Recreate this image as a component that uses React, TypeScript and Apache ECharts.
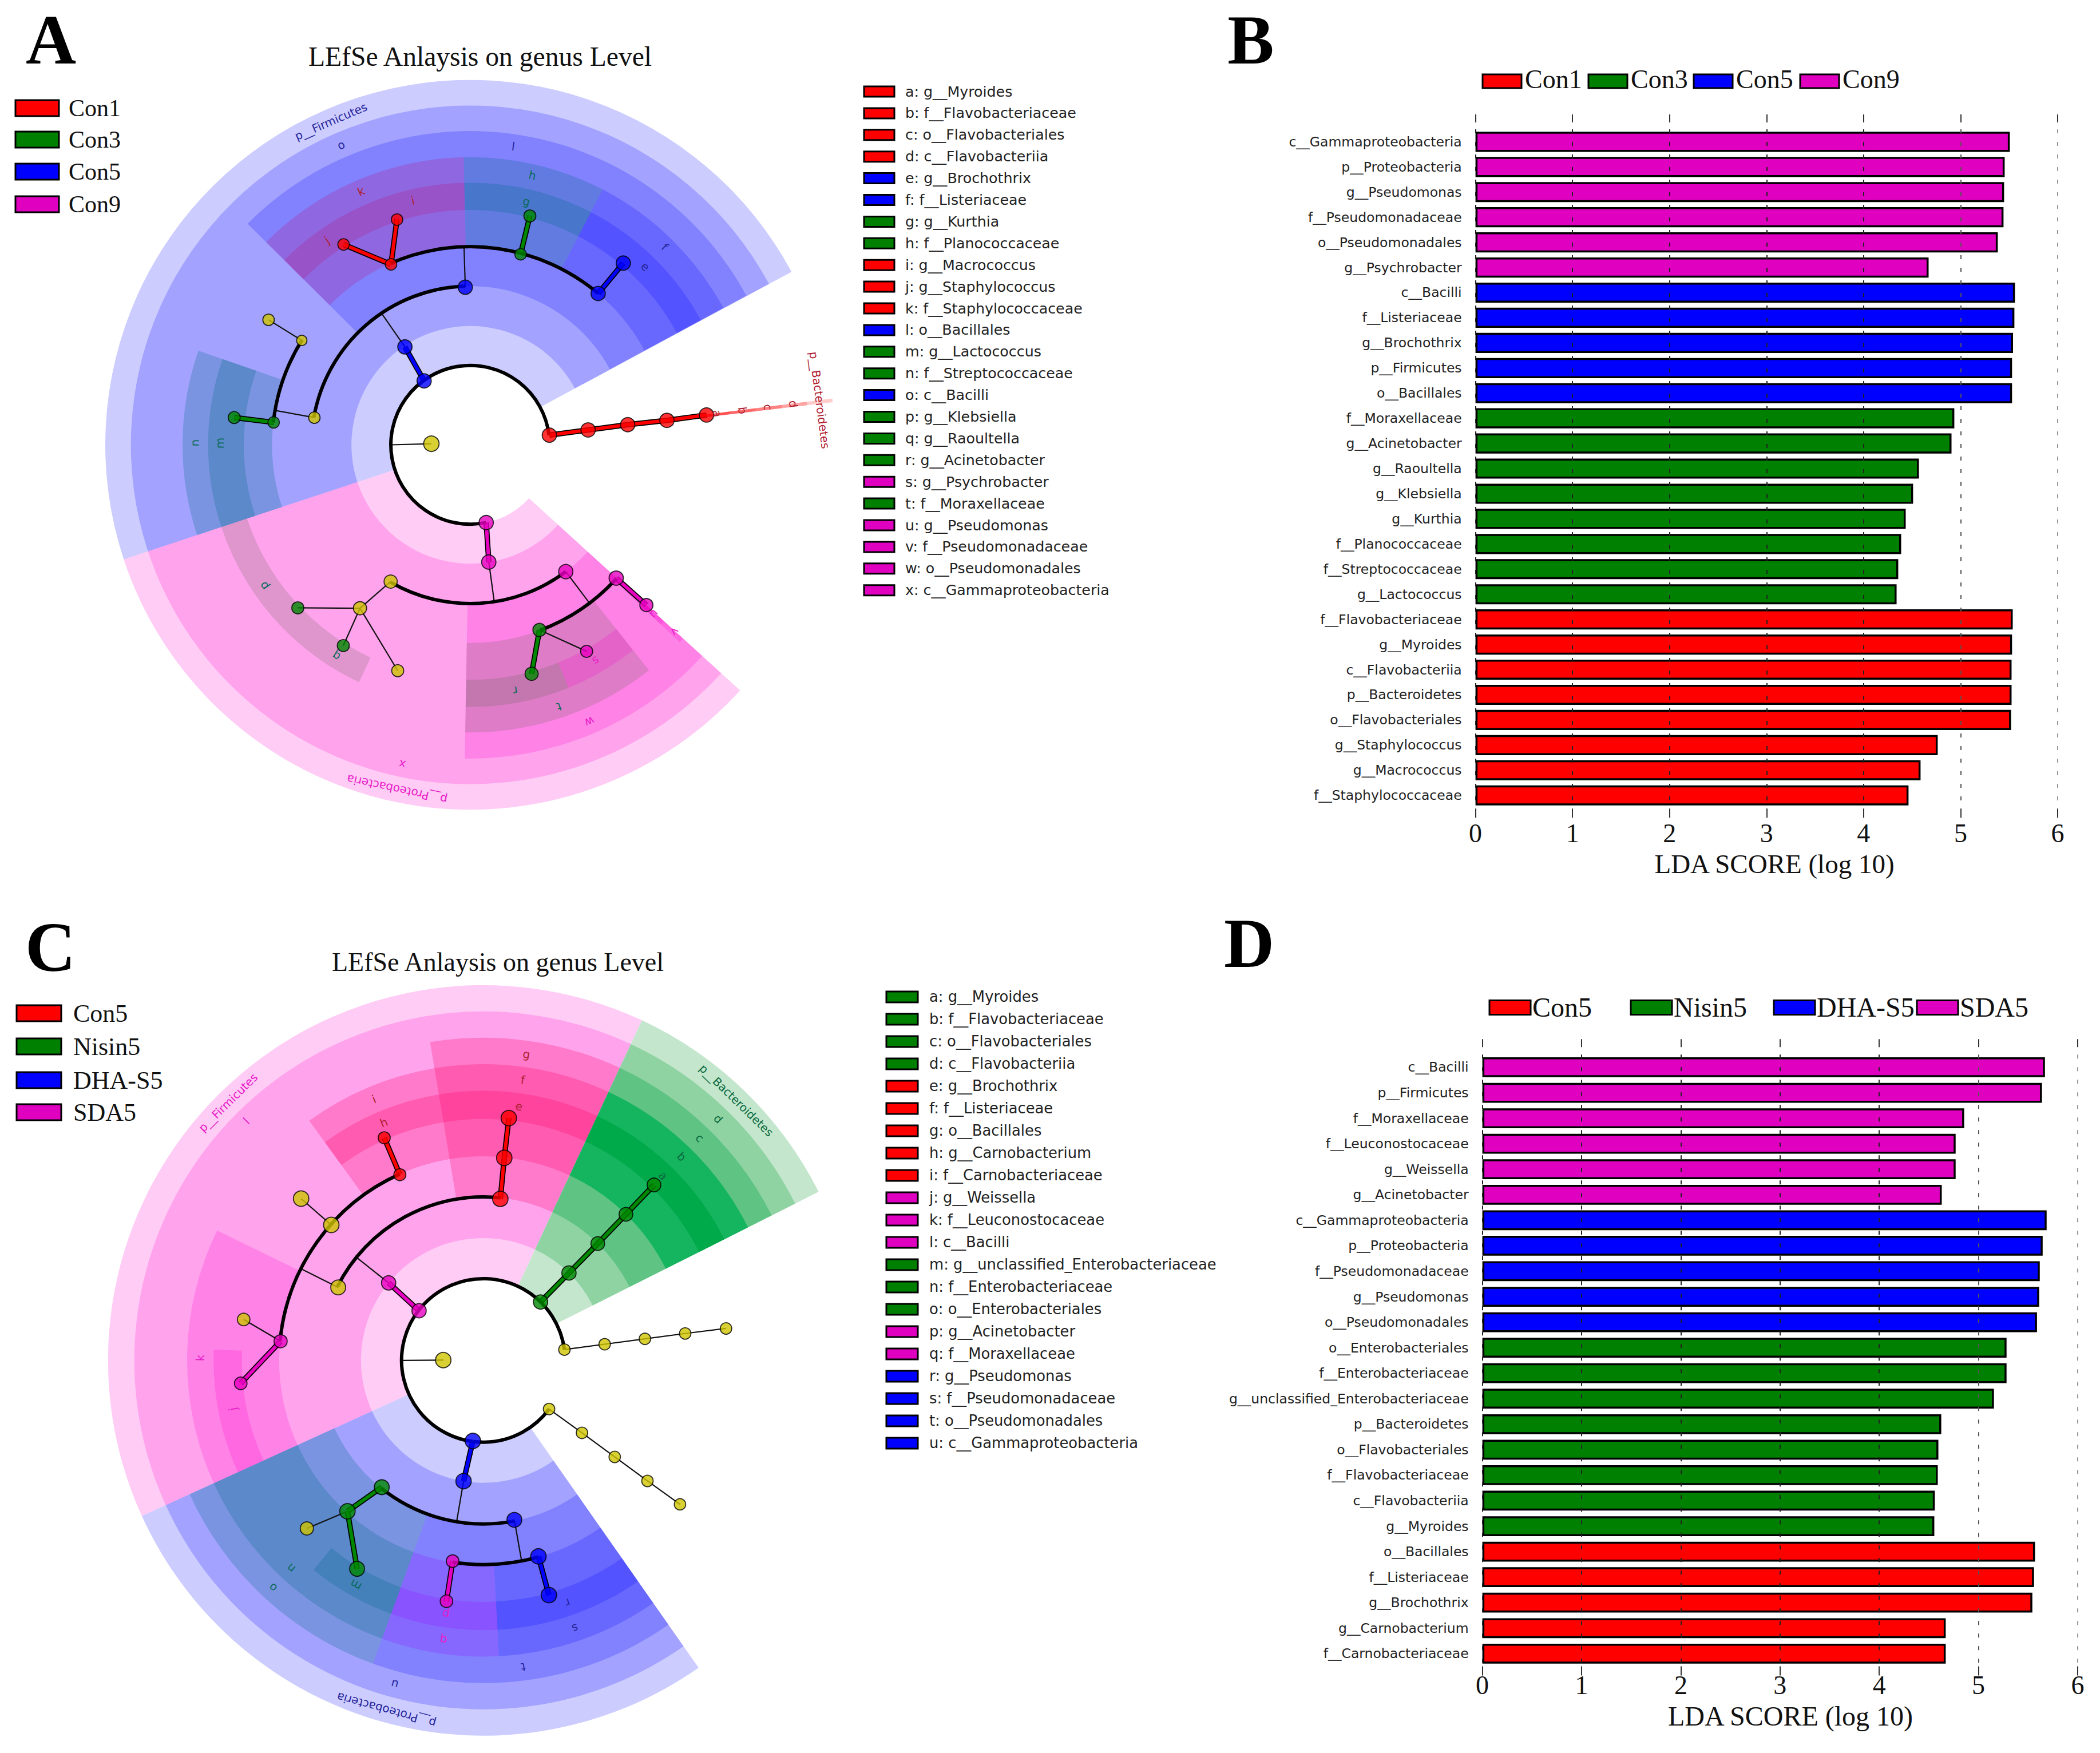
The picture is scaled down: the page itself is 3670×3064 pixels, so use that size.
import React, { useEffect, useRef } from "react";
import * as echarts from "echarts";

// ---------- bar panels ----------
const bCategories = ["c__Gammaproteobacteria","p__Proteobacteria","g__Pseudomonas","f__Pseudomonadaceae","o__Pseudomonadales","g__Psychrobacter","c__Bacilli","f__Listeriaceae","g__Brochothrix","p__Firmicutes","o__Bacillales","f__Moraxellaceae","g__Acinetobacter","g__Raoultella","g__Klebsiella","g__Kurthia","f__Planococcaceae","f__Streptococcaceae","g__Lactococcus","f__Flavobacteriaceae","g__Myroides","c__Flavobacteriia","p__Bacteroidetes","o__Flavobacteriales","g__Staphylococcus","g__Macrococcus","f__Staphylococcaceae"];
const bValues = [5.507,5.454,5.448,5.442,5.383,4.67,5.56,5.554,5.54,5.53,5.53,4.935,4.906,4.57,4.51,4.434,4.387,4.357,4.34,5.537,5.53,5.525,5.525,5.52,4.764,4.587,4.463];
const bGroups = [3,3,3,3,3,3,2,2,2,2,2,1,1,1,1,1,1,1,1,0,0,0,0,0,0,0,0];
const dCategories = ["c__Bacilli","p__Firmicutes","f__Moraxellaceae","f__Leuconostocaceae","g__Weissella","g__Acinetobacter","c__Gammaproteobacteria","p__Proteobacteria","f__Pseudomonadaceae","g__Pseudomonas","o__Pseudomonadales","o__Enterobacteriales","f__Enterobacteriaceae","g__unclassified_Enterobacteriaceae","p__Bacteroidetes","o__Flavobacteriales","f__Flavobacteriaceae","c__Flavobacteriia","g__Myroides","o__Bacillales","f__Listeriaceae","g__Brochothrix","g__Carnobacterium","f__Carnobacteriaceae"];
const dValues = [5.67,5.64,4.856,4.77,4.77,4.63,5.687,5.647,5.618,5.612,5.59,5.283,5.283,5.156,4.625,4.596,4.59,4.56,4.555,5.57,5.56,5.543,4.67,4.67];
const dGroups = [3,3,3,3,3,3,2,2,2,2,2,1,1,1,1,1,1,1,1,0,0,0,0,0];
const xTicks = [0, 6];

const groupColors = ["#ff0000", "#008000", "#0000ff", "#e000c0"];
const aGroupNames = ["Con1", "Con3", "Con5", "Con9"];
const cGroupNames = ["Con5", "Nisin5", "DHA-S5", "SDA5"];

// ---------- key lists beside the cladograms ----------
const aKeyNames = ["a: g__Myroides","b: f__Flavobacteriaceae","c: o__Flavobacteriales","d: c__Flavobacteriia","e: g__Brochothrix","f: f__Listeriaceae","g: g__Kurthia","h: f__Planococcaceae","i: g__Macrococcus","j: g__Staphylococcus","k: f__Staphylococcaceae","l: o__Bacillales","m: g__Lactococcus","n: f__Streptococcaceae","o: c__Bacilli","p: g__Klebsiella","q: g__Raoultella","r: g__Acinetobacter","s: g__Psychrobacter","t: f__Moraxellaceae","u: g__Pseudomonas","v: f__Pseudomonadaceae","w: o__Pseudomonadales","x: c__Gammaproteobacteria"];
const aKeyGroups = [0,0,0,0,2,2,1,1,0,0,0,2,1,1,2,1,1,1,3,1,3,3,3,3];
const cKeyNames = ["a: g__Myroides","b: f__Flavobacteriaceae","c: o__Flavobacteriales","d: c__Flavobacteriia","e: g__Brochothrix","f: f__Listeriaceae","g: o__Bacillales","h: g__Carnobacterium","i: f__Carnobacteriaceae","j: g__Weissella","k: f__Leuconostocaceae","l: c__Bacilli","m: g__unclassified_Enterobacteriaceae","n: f__Enterobacteriaceae","o: o__Enterobacteriales","p: g__Acinetobacter","q: f__Moraxellaceae","r: g__Pseudomonas","s: f__Pseudomonadaceae","t: o__Pseudomonadales","u: c__Gammaproteobacteria"];
const cKeyGroups = [1,1,1,1,0,0,0,0,0,3,3,3,1,1,1,3,3,2,2,2,2];

// ---------- cladogram A: polar values [radius, radius end, angle start, angle end] ----------
const aSectors = [
  [149,685,28.3,198.3],[223,637,28.3,198.3],[298,589,28.4,135.2],[372,540,91.3,135.2],[441,492,114.9,135.2],[441,492,91.3,114.9],
  [372,540,62.6,91.3],[441,492,62.6,91.3],[372,540,28.4,62.6],[441,492,28.4,62.6],[372,540,160.9,198.3],[425,492,160.9,198.3],
  [149,685,198.3,317.7],[223,637,198.3,317.7],[298,589,269,317.7],[372,540,269,308.4],[441,492,269,292],[441,492,292,308.4],
  [441,492,198.3,230.4],[441,492,230.4,244.9],[372,540,316.7,317.7],[441,492,316.7,317.7],
  [149,685,6.7,7.3],[223,637,6.7,7.3],[298,589,6.7,7.3],[372,540,6.7,7.3],[441,492,6.7,7.3],
];
const aSectorGroups = ["blue","blue","blue","plum","plum","plum","teal","teal","blue","blue","teal","teal","pink","pink","pink","olive","olive","pink","olive","olive","pink","pink","red","red","red","red","red"];
const aArcs = [[149,6.9,281.6],[298,91.8,170.1],[372,148,173.5],[372,49.8,113.7],[298,239.8,307],[372,290.5,317.6]];
const aEdges = [
  [149.6,7,223,7.2],[223,7.2,298,7.3],[298,7.3,372,7.1],[372,7.1,447,7.2],
  [148,125.8,221,123.7],[221,123.7,298,124],[297,170.1,372,170],[372,148.2,445,148.2],[371,173.5,446,173.4],[296,91.8,372,91.8],
  [370,113.7,445,108],[370,113.7,445,122.3],[370,75.2,444,75.4],[372,49.8,446,49.9],[73,178.4,149,180],
  [149,281.6,223,279],[223,279,298,278.7],[298,307,372,307],[371,290.5,445,285],[371,290.5,445,299.4],[371,317.6,447,317.7],
  [297,239.8,370,236],[370,236,445.4,223.4],[370,236,445.9,237.7],[370,236,445.3,252.2],
];
const aEdgeColors = ["red","red","red","red","blue",null,null,null,"green",null,"red","red","green","blue",null,"pink",null,null,"green",null,"pink",null,null,null,null];
const aNodes = [
  [149.6,7,25],[223,7.2,25],[298,7.3,25],[372,7.1,25],[447,7.2,25],
  [148,125.8,25],[221,123.7,25],[297,170.1,20],[372,148.2,18],[445.4,148.2,20],[371.4,173.5,20],[446,173.4,21],[296,91.8,25],
  [370,113.7,20],[444.6,108,20],[445,122.3,20],[370,75.2,20],[444,75.4,21],[372,49.8,25],[446,49.9,25],[73,178.4,27],
  [149,281.6,25],[222.8,279,25],[297,239.8,23],[298,307,25],[371,290.5,23],[371,317.6,25],[445,285,23],[445,299.4,21],[447,317.7,23],
  [370,236,23],[445.4,223.4,21],[445.9,237.7,21],[445.3,252.2,21],
];
const aNodeColors = ["red","red","red","red","red","blue","blue","yellow","yellow","yellow","green","green","blue","red","red","red","green","green","blue","blue","yellow","pink","pink","yellow","pink","green","pink","green","pink","pink","yellow","green","green","yellow"];
const aLabels = ["a","b","c","d","p__Bacteroidetes","l","o","p__Firmicutes","k","j","i","h","g","f","e","n","m","p","q","r","s","t","w","x","p__Proteobacteria","u","v"];
const aLabelPos = [[467,7.2],[515,7.2],[563,7.2],[611,7.2],[661,7.3],[566,81.8],[613,113.3],[661,113.3],[518,113.3],[469,125],[471,103.2],[519,77],[469,77],[521,45.5],[469,45.5],[517,179.6],[470,179.6],[469,214.4],[470,237.6],[469,280.4],[469,300.2],[519,288.7],[566,293.3],[613,258],[661,258],[469,317.4],[520,317.6]];
const aLabelGroups = ["red","red","red","red","red","blue","blue","blue","red","red","red","green","green","blue","blue","green","green","green","green","green","pink","green","pink","pink","pink","pink","pink"];

// ---------- cladogram C ----------
const cSectors = [
  [151,693,65,204.5],[226,644.5,65,204.5],[302,596,65,99.5],[377,547,65,99.5],[446,498,65,99.5],[377,547,99.5,126],[446,498,99.5,126],
  [377,547,154,204.5],[446,498,177.7,204.5],
  [151,693,26.7,65],[226,644.5,26.7,65],[302,596,26.7,65],[377,547,26.7,65],[446,498,26.7,65],
  [151,693,204.5,305],[226,644.5,204.5,305],[302,596,250,305],[377,547,273,305],[446,498,273,305],[377,547,250,273],[446,498,250,273],
  [302,596,204.5,250],[377,547,204.5,250],[446,498,231,250],
];
const cSectorGroups = ["pink","pink","rose","rose","rose","rose","rose","pink","pink","mint1","mint2","mint3","mint4","mint5","blue","blue","blue","blue","blue","violet","violet","teal","teal","teal"];
const cArcs = [[151,7.6,323.6],[302,84,153.3],[377,114.2,174.6],[302,231.3,281],[377,261.3,285.7]];
const cEdges = [
  [151,45.6,226,45.6],[226,45.6,302,45.6],[302,45.6,377,45.7],[377,45.7,452,45.8],
  [151,7.6,226,7.6],[226,7.6,301,7.6],[301,7.6,376,7.6],[376,7.6,452,7.5],
  [151,323.5,226,323.7],[226,323.7,301,323.7],[301,323.7,376,323.7],[376,323.7,450,323.8],
  [150,142.3,226,140.7],[226,140.7,302,140.9],[300,153.3,376,153.3],[376,114.2,450,114],[300,84,376,84.1],[376,84.1,450,84],
  [376,138.3,450,138.4],[376,174.6,449,170.3],[376,174.6,450,185.4],[74,179.5,150,180],
  [150,262.6,226,260.7],[226,260.7,302,260.6],[300,231.3,375,228],[375,228,450,223.6],[375,228,450,238.8],
  [300,281,376,280.8],[375,261.3,450,261.3],[376,285.7,450,285.6],
];
const cEdgeColors = ["green","green","green","green",null,null,null,null,null,null,null,null,"pink",null,null,"red","red","red",null,null,"pink",null,"blue",null,"green",null,"green",null,"pink","blue"];
const cNodes = [
  [151,45.6,25],[226,45.6,25],[302,45.6,24],[377,45.7,24],[452,45.8,24],
  [151,7.6,20],[226,7.6,20],[301,7.6,20],[376,7.6,20],[452,7.5,20],
  [151,323.5,20],[226,323.7,20],[301,323.7,20],[376,323.7,20],[450,323.8,20],
  [150,142.3,25],[226,140.7,25],[300,153.3,26],[300,84,27],[376,84.1,27],[450,84,27],
  [376,114.2,21],[450,114,21],[376,138.3,27],[450,138.4,27],[376,174.6,23],[449,170.3,22],[450,185.4,22],[74,179.5,27],
  [150,262.6,27],[226,260.7,27],[300,231.3,26],[375,228,27],[450,223.6,23],[450,238.8,26],[300,281,26],[375,261.3,22],[450,261.3,22],[376,285.7,27],[450,285.6,27],
];
const cNodeColors = ["green","green","green","green","green","yellow","yellow","yellow","yellow","yellow","yellow","yellow","yellow","yellow","yellow","pink","pink","yellow","red","red","red","red","red","yellow","yellow","pink","yellow","pink","yellow","blue","blue","green","green","yellow","green","blue","pink","pink","blue","blue"];
const cLabels = ["a","b","c","d","p__Bacteroidetes","g","f","e","i","h","l","p__Firmicutes","k","j","u","p__Proteobacteria","t","s","r","q","p","o","n","m"];
const cLabelPos = [[476,45.8],[525,45.8],[573,45.8],[622,45.8],[670,45.8],[571,82],[523,82],[474,82],[523,112.7],[476,112.7],[622,134.7],[670,134.7],[523,179.5],[471,191],[620,254.7],[670,254.5],[571,277.4],[523,288.9],[474,289.2],[522,261.9],[474,261.6],[572,227.2],[523,227.2],[477,240.4]];
const cLabelGroups = ["mint","mint","mint","mint","mint","red","red","red","red","red","pink","pink","pink","pink","blue","blue","blue","blue","blue","pink","pink","green","green","green"];

const SECTOR_FILL: any = {
  blue: ["#0000ff", 0.2], red: ["#ff0000", 0.2], pink: ["#ff00cc", 0.2],
  plum: ["rgb(195,0,105)", 0.2], teal: ["rgb(0,105,135)", 0.25], olive: ["rgb(90,100,75)", 0.2],
  rose: ["rgb(255,0,100)", 0.25], violet: ["rgb(150,0,255)", 0.2],
  mint1: ["#c3e6cc", 1], mint2: ["#8fd3a3", 1], mint3: ["#5fc384", 1], mint4: ["#15b560", 1], mint5: ["#00aa4a", 1],
};
const NODE_FILL: any = { red: "#ff0000", green: "#008800", blue: "#0000ff", pink: "#e800c0", yellow: "#d0c400" };
const LABEL_FILL: any = { red: "#b02030", green: "#0a6a5a", blue: "#25259a", pink: "#e81cc8", mint: "#0a6a40" };
const RAD = Math.PI / 180;

function polarSeries(index: number, sectors: any[], sectorGroups: any[], arcs: any[], edges: any[], edgeColors: any[], nodes: any[], nodeColors: any[], labels: any[], labelPos: any[], labelGroups: any[]) {
  const base = { type: "custom", coordinateSystem: "polar", polarIndex: index, silent: true, clip: false };
  const len = (api: any, u: number) => {
    const c = api.coord([0, 0]);
    const p = api.coord([u, 0]);
    return { cx: c[0], cy: c[1], r: Math.hypot(p[0] - c[0], p[1] - c[1]) };
  };
  return [
    {
      ...base, z: 2, data: sectors, encode: { radius: 0, angle: 2 },
      renderItem: (params: any, api: any) => {
        const a = len(api, api.value(0));
        const b = len(api, api.value(1));
        const f = SECTOR_FILL[sectorGroups[params.dataIndex]];
        return {
          type: "sector",
          shape: { cx: a.cx, cy: a.cy, r0: a.r, r: b.r, startAngle: -api.value(3) * RAD, endAngle: -api.value(2) * RAD, clockwise: true },
          style: { fill: f[0], opacity: f[1] },
        };
      },
    },
    {
      ...base, z: 3, data: edges, encode: { radius: 0, angle: 1 },
      renderItem: (params: any, api: any) => {
        const p = api.coord([api.value(0), api.value(1)]);
        const q = api.coord([api.value(2), api.value(3)]);
        const shape = { x1: p[0], y1: p[1], x2: q[0], y2: q[1] };
        const col = edgeColors[params.dataIndex];
        if (!col) return { type: "line", shape, style: { stroke: "#111", lineWidth: 2.2 } };
        return {
          type: "group",
          children: [
            { type: "line", shape, style: { stroke: "#000", lineWidth: 9.5 } },
            { type: "line", shape, style: { stroke: NODE_FILL[col], lineWidth: 6 } },
          ],
        };
      },
    },
    {
      ...base, z: 4, data: arcs, encode: { radius: 0, angle: 1 },
      renderItem: (_p: any, api: any) => {
        const a = len(api, api.value(0));
        return {
          type: "arc",
          shape: { cx: a.cx, cy: a.cy, r: a.r, startAngle: -api.value(2) * RAD, endAngle: -api.value(1) * RAD, clockwise: true },
          style: { stroke: "#000", lineWidth: 6, fill: "none" },
        };
      },
    },
    {
      type: "scatter", coordinateSystem: "polar", polarIndex: index, silent: true, z: 5,
      data: nodes.map((n: any, i: number) => ({
        value: [n[0], n[1]], symbolSize: n[2],
        itemStyle: { color: NODE_FILL[nodeColors[i]], borderColor: "#000", borderWidth: 1.8 },
      })),
    },
    {
      ...base, z: 6, data: labelPos, encode: { radius: 0, angle: 1 },
      renderItem: (params: any, api: any) => {
        const p = api.coord([api.value(0), api.value(1)]);
        const text = labels[params.dataIndex];
        return {
          type: "text", x: p[0], y: p[1], rotation: (api.value(1) - 90) * RAD,
          style: { text, fill: LABEL_FILL[labelGroups[params.dataIndex]], font: `20px "DejaVu Sans"`, align: "center", verticalAlign: "middle", textAlign: "center", textVerticalAlign: "middle" },
        };
      },
    },
  ];
}

function txt(x: number, y: number, text: string, font: string, align = "left", fill = "#111") {
  return { type: "text", x, y, z: 20, style: { text, font, fill, align, verticalAlign: "middle", textAlign: align, textVerticalAlign: "middle" } };
}
function swatch(x: number, y: number, w: number, h: number, fill: string, lw = 3) {
  return { type: "rect", z: 20, shape: { x, y: y - h / 2, width: w, height: h }, style: { fill, stroke: "#000", lineWidth: lw } };
}

export default function App() {
  const ref = useRef<HTMLDivElement>(null);
  useEffect(() => {
    document.body.style.margin = "0";
    const chart = echarts.init(ref.current!, null, { renderer: "svg" });
    const SERIF = '"Liberation Serif"';
    const DJ = '"DejaVu Sans"';
    const graphics: any[] = [
      txt(89, 69, "A", `bold 122px ${SERIF}`, "center", "#000"),
      txt(2186, 69, "B", `bold 122px ${SERIF}`, "center", "#000"),
      txt(88, 1655, "C", `bold 122px ${SERIF}`, "center", "#000"),
      txt(2183, 1648, "D", `bold 122px ${SERIF}`, "center", "#000"),
      txt(839, 99, "LEfSe Anlaysis on genus Level", `47.6px ${SERIF}`, "center"),
      txt(870, 1681, "LEfSe Anlaysis on genus Level", `46px ${SERIF}`, "center"),
      txt(3101, 1510, "LDA SCORE (log 10)", `47px ${SERIF}`, "center"),
      txt(3129, 2999, "LDA SCORE (log 10)", `48px ${SERIF}`, "center"),
    ];
    const aLegendY = [189, 244, 300, 357];
    aGroupNames.forEach((n, i) => {
      graphics.push(swatch(27, aLegendY[i], 76, 28, groupColors[i]));
      graphics.push(txt(120, aLegendY[i], n, `42px ${SERIF}`));
    });
    const cLegendY = [1771, 1829, 1888, 1944];
    cGroupNames.forEach((n, i) => {
      graphics.push(swatch(29, cLegendY[i], 78, 28, groupColors[i]));
      graphics.push(txt(128, cLegendY[i], n, `44px ${SERIF}`));
    });
    const bLegendX = [2591, 2776, 2960, 3146];
    aGroupNames.forEach((n, i) => {
      graphics.push(swatch(bLegendX[i], 142, 68, 24, groupColors[i]));
      graphics.push(txt(bLegendX[i] + 74, 138, n, `46px ${SERIF}`));
    });
    const dLegendX = [2603, 2850, 3100, 3350];
    cGroupNames.forEach((n, i) => {
      graphics.push(swatch(dLegendX[i], 1761, 72, 25, groupColors[i]));
      graphics.push(txt(dLegendX[i] + 75, 1760, n, `48px ${SERIF}`));
    });
    aKeyNames.forEach((n, i) => {
      const y = 160 + i * 37.9;
      graphics.push(swatch(1510, y, 53, 18, groupColors[aKeyGroups[i]], 3));
      graphics.push(txt(1582, y, n, `25.3px ${DJ}`, "left", "#222"));
    });
    cKeyNames.forEach((n, i) => {
      const y = 1742.4 + i * 39;
      graphics.push(swatch(1549, y, 55, 19, groupColors[cKeyGroups[i]], 3));
      graphics.push(txt(1624, y, n, `25.8px ${DJ}`, "left", "#222"));
    });

    const gridRects = [
      { left: 2578.6, width: 1017.4, top: 225.9, height: 1186.3 },
      { left: 2590.6, width: 1040.4, top: 1843.2, height: 1069.4 },
    ];
    const xAxes: any[] = [];
    const yAxes: any[] = [];
    const barSeries: any[] = [];
    const splitColors = ["#222", "#222", "#222", "#222", "#222", "#555", "#999"];
    [[bCategories, bValues, bGroups, 80, 1, 12, 20], [dCategories, dValues, dGroups, 78, 0, 13, 10]].forEach((panel: any, g: number) => {
      xAxes.push({
        gridIndex: g, type: "value", min: xTicks[0], max: xTicks[1], interval: 1, position: "bottom", offset: panel[4], z: 4,
        axisLine: { show: false },
        axisTick: { show: true, length: 16, lineStyle: { color: "#333", width: 2 } },
        axisLabel: { margin: panel[6], fontFamily: "Liberation Serif", fontSize: 46, color: "#111" },
        splitLine: { show: true, lineStyle: { color: splitColors, width: 2, type: [7, 15] } },
      });
      xAxes.push({
        gridIndex: g, type: "value", min: xTicks[0], max: xTicks[1], interval: 1, position: "top", offset: panel[5],
        axisLine: { show: false },
        axisTick: { show: true, length: 14, lineStyle: { color: "#333", width: 2 } },
        axisLabel: { show: false }, splitLine: { show: false },
      });
      yAxes.push({
        gridIndex: g, type: "category", data: panel[0], inverse: true,
        axisLine: { show: false }, axisTick: { show: false }, splitLine: { show: false },
        axisLabel: { margin: 24, fontFamily: "DejaVu Sans", fontSize: 23.5, color: "#222", interval: 0 },
      });
      barSeries.push({
        type: "bar", xAxisIndex: g * 2, yAxisIndex: g, barWidth: `${panel[3]}%`, silent: true, z: 2,
        data: panel[1].map((v: number, i: number) => ({ value: v, itemStyle: { color: groupColors[panel[2][i]], borderColor: "#000", borderWidth: 3.5 } })),
      });
    });

    chart.setOption({
      animation: false,
      backgroundColor: "#fff",
      tooltip: { show: false },
      grid: gridRects,
      xAxis: xAxes,
      yAxis: yAxes,
      polar: [
        { center: [821.8, 777.5], radius: [0, 720 / 1.074] },
        { center: [844.7, 2377.8], radius: [0, 720 / 1.0566] },
      ],
      radiusAxis: [0, 1].map((i) => ({ polarIndex: i, type: "value", min: 0, max: 720, show: false, axisLine: { show: false }, axisTick: { show: false }, axisLabel: { show: false }, splitLine: { show: false } })),
      angleAxis: [0, 1].map((i) => ({ polarIndex: i, type: "value", min: 0, max: 360, startAngle: 0, clockwise: false, show: false, axisLine: { show: false }, axisTick: { show: false }, axisLabel: { show: false }, splitLine: { show: false } })),
      graphic: { elements: graphics },
      series: [
        ...barSeries,
        ...polarSeries(0, aSectors, aSectorGroups, aArcs, aEdges, aEdgeColors, aNodes, aNodeColors, aLabels, aLabelPos, aLabelGroups),
        ...polarSeries(1, cSectors, cSectorGroups, cArcs, cEdges, cEdgeColors, cNodes, cNodeColors, cLabels, cLabelPos, cLabelGroups),
      ],
    });
    return () => chart.dispose();
  }, []);
  return <div ref={ref} style={{ width: 3670, height: 3064 }} />;
}
